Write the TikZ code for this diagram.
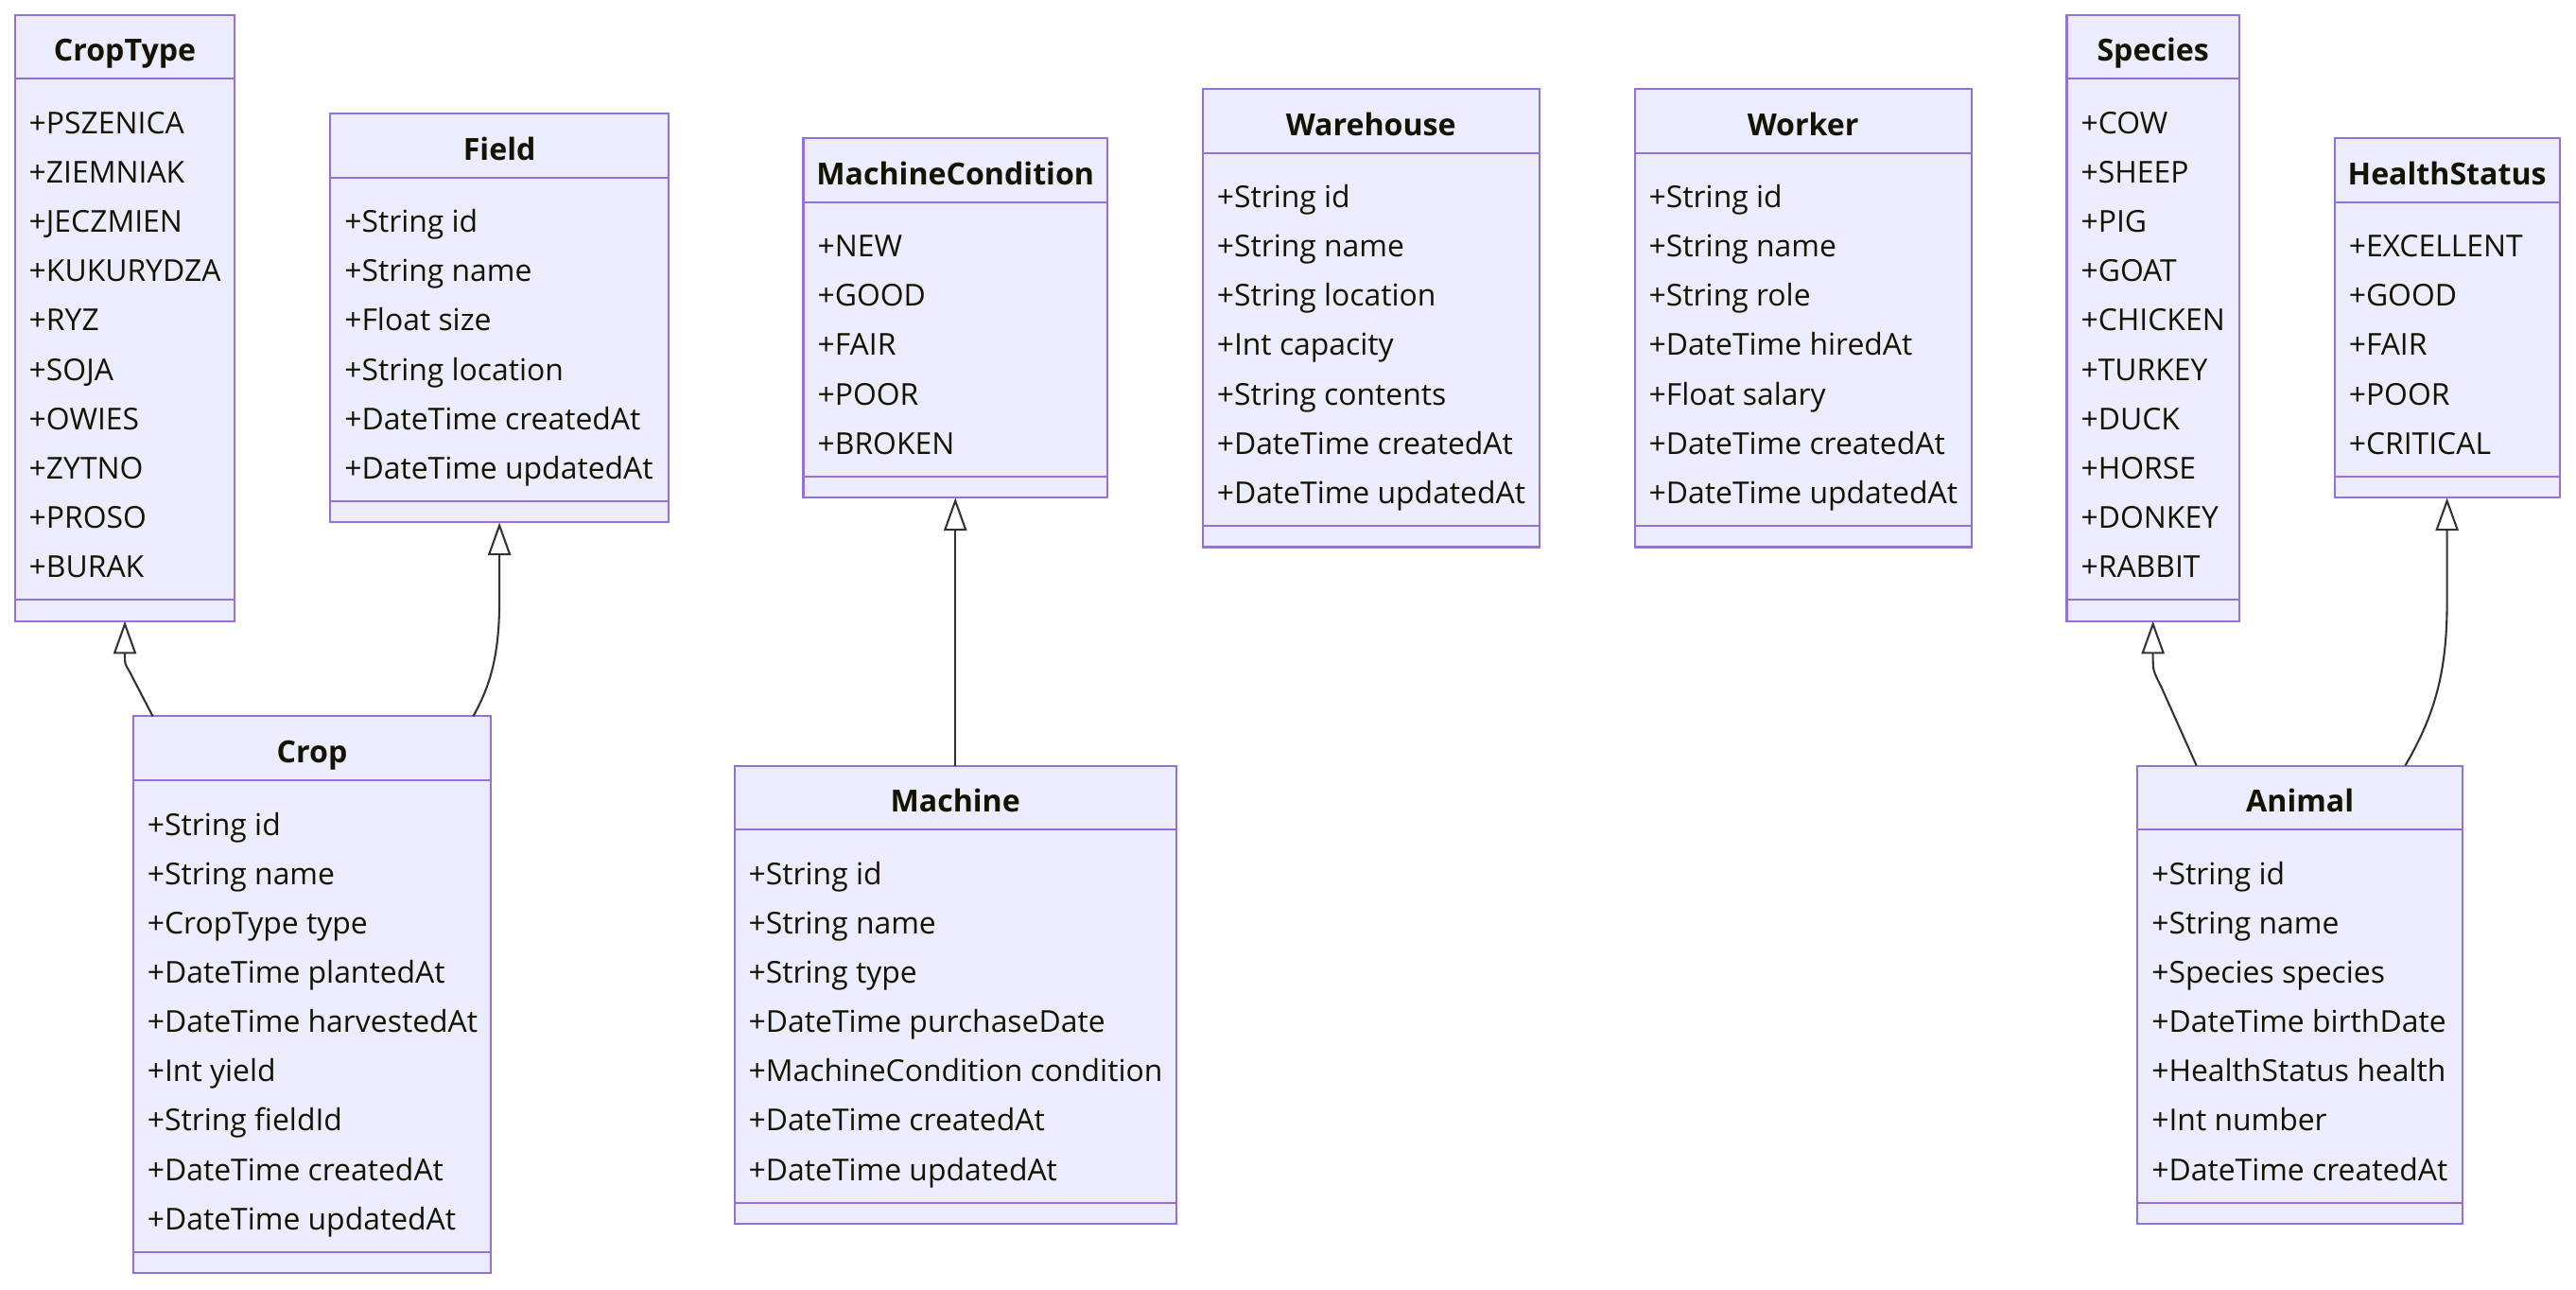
\documentclass[tikz,border=0pt]{standalone}
\usepackage{fontspec}
\setmainfont{Open Sans}
\usetikzlibrary{arrows.meta,calc}
\definecolor{boxfill}{HTML}{ECECFF}
\definecolor{boxdraw}{HTML}{9370DB}
\definecolor{txt}{HTML}{131300}
\definecolor{edgecol}{HTML}{333333}
\tikzset{
 classbox/.style={draw=boxdraw, fill=boxfill, line width=1.2pt, inner sep=0pt, outer sep=0pt, rectangle},
 divider/.style={draw=boxdraw, line width=1.2pt},
 titletext/.style={font=\fontsize{18.5}{22}\selectfont\bfseries, text=txt, inner sep=0pt, anchor=base},
 itemtext/.style={font=\fontsize{18.35}{22}\selectfont, text=txt, inner sep=0pt, anchor=base west},
 ext/.style={draw=edgecol, line width=1.2pt, -{Triangle[open, length=20pt, width=14pt]}},
}
% #1 name, #2 x1, #3 y1, #4 x2, #5 number of items, #6 title, #7 items
\newcommand\umlbox[7]{%
  \pgfmathsetmacro\bh{69+30*#5}%
  \pgfmathsetmacro\bw{#4-#2}%
  \pgfmathsetmacro\sepy{#3+39+26+30*(#5-1)+21}%
  \node[classbox, minimum width=\bw pt, minimum height=\bh pt, anchor=north west] (#1) at (#2,#3) {};
  \draw[divider] (#2,#3+39) -- (#4,#3+39);
  \draw[divider] (#2,\sepy) -- (#4,\sepy);
  \node[titletext] (#1-title) at ({(#2+#4)/2},#3+21+7.4) {#6};
  \foreach \itm [count=\i] in {#7} {
    \node[itemtext] (#1-\i) at (#2+8.5,{#3+65+30*(\i-1)+7.4}) {\itm};
  }
}
\begin{document}
\begin{tikzpicture}[x=1pt,y=-1pt]
\useasboundingbox[fill=white] (0,0) rectangle (1568,785);

\umlbox{croptype}{9}{9}{143}{10}{CropType}{+PSZENICA,+ZIEMNIAK,+JECZMIEN,+KUKURYDZA,+RYZ,+SOJA,+OWIES,+ZYTNO,+PROSO,+BURAK}
\umlbox{field}{201}{69}{407}{6}{Field}{+String id,+String name,+Float size,+String location,+DateTime createdAt,+DateTime updatedAt}
\umlbox{mc}{489}{84}{674}{5}{MachineCondition}{+NEW,+GOOD,+FAIR,+POOR,+BROKEN}
\umlbox{warehouse}{732}{54}{937}{7}{Warehouse}{+String id,+String name,+String location,+Int capacity,+String contents,+DateTime createdAt,+DateTime updatedAt}
\umlbox{worker}{995}{54}{1200}{7}{Worker}{+String id,+String name,+String role,+DateTime hiredAt,+Float salary,+DateTime createdAt,+DateTime updatedAt}
\umlbox{species}{1258}{9}{1363}{10}{Species}{+COW,+SHEEP,+PIG,+GOAT,+CHICKEN,+TURKEY,+DUCK,+HORSE,+DONKEY,+RABBIT}
\umlbox{hs}{1421}{84}{1558}{5}{HealthStatus}{+EXCELLENT,+GOOD,+FAIR,+POOR,+CRITICAL}
\umlbox{crop}{81}{436}{299}{9}{Crop}{+String id,+String name,+CropType type,+DateTime plantedAt,+DateTime harvestedAt,+Int yield,+String fieldId,+DateTime createdAt,+DateTime updatedAt}
\umlbox{machine}{447}{466}{716}{7}{Machine}{+String id,+String name,+String type,+DateTime purchaseDate,+MachineCondition condition,+DateTime createdAt,+DateTime updatedAt}
\umlbox{animal}{1301}{466}{1499}{7}{Animal}{+String id,+String name,+Species species,+DateTime birthDate,+HealthStatus health,+Int number,+DateTime createdAt}

\draw[ext] ($(crop.north west)+(12,0)$) -- (79,409) .. controls (76,404) .. (76,400) -- (croptype.south);
\draw[ext] ($(crop.north east)+(-11,0)$) .. controls (298,418) and (304,400) .. (304,365) -- (field.south);
\draw[ext] (machine.north) -- (mc.south);
\draw[ext] ($(animal.north west)+(36,0)$) -- (1315.5,418) .. controls (1310.5,408) .. (1310.5,400) -- (species.south);
\draw[ext] ($(animal.north east)+(-35,0)$) .. controls (1484,432) and (1489.5,405) .. (1489.5,365) -- (hs.south);
\end{tikzpicture}
\end{document}
